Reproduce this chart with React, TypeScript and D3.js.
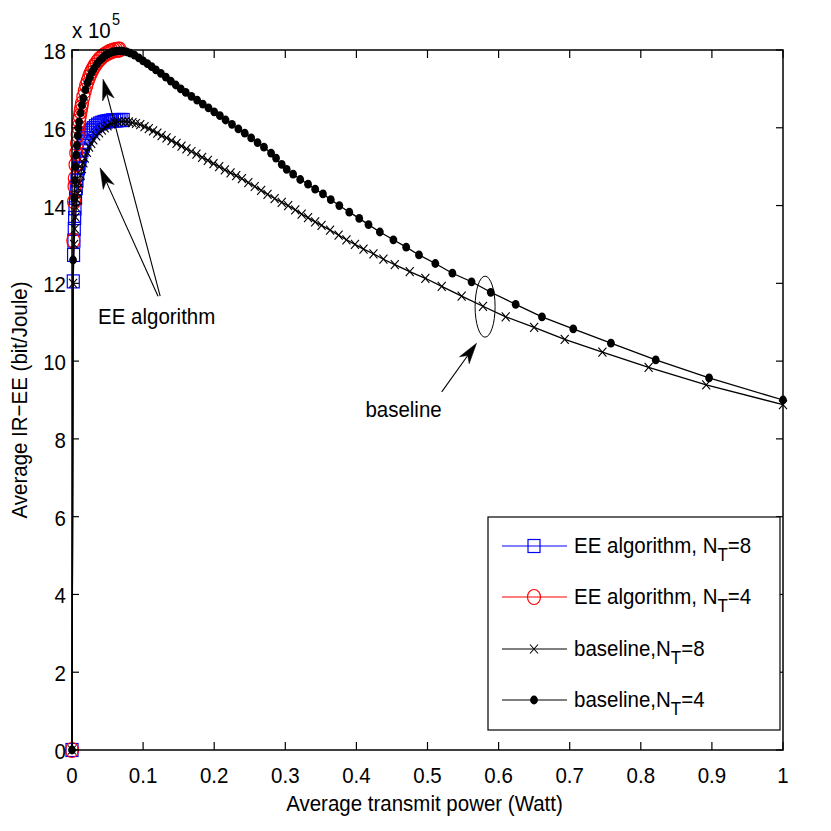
import React from 'react';
import * as d3 from 'd3';

// ---------- data (EE values in units of 1e5 bit/Joule) ----------
const xTickValues = [0, 0.1, 0.2, 0.3, 0.4, 0.5, 0.6, 0.7, 0.8, 0.9, 1];
const xTickLabels = ['0', '0.1', '0.2', '0.3', '0.4', '0.5', '0.6', '0.7', '0.8', '0.9', '1'];
const yTickValues = [0, 2, 4, 6, 8, 10, 12, 14, 16, 18];
const yTickLabels = ['0', '2', '4', '6', '8', '10', '12', '14', '16', '18'];

const eeNT8Power = [0, 0.0018, 0.0022, 0.0027, 0.0032, 0.0037, 0.0042, 0.005, 0.006, 0.007, 0.008, 0.009, 0.010, 0.011, 0.012, 0.014, 0.016, 0.018, 0.020, 0.022, 0.024, 0.026, 0.028, 0.030, 0.033, 0.036, 0.039, 0.042, 0.045, 0.048, 0.051, 0.054, 0.057, 0.060, 0.063, 0.066, 0.069, 0.072];
const eeNT8Value = [0, 12.05, 12.73, 13.1, 13.4, 13.68, 13.93, 14.2, 14.45, 14.65, 14.82, 14.96, 15.08, 15.18, 15.27, 15.42, 15.54, 15.64, 15.73, 15.8, 15.86, 15.91, 15.95, 15.99, 16.04, 16.08, 16.11, 16.13, 16.15, 16.16, 16.17, 16.18, 16.19, 16.19, 16.19, 16.2, 16.2, 16.2];

const eeNT4Power = [0, 0.0018, 0.003, 0.0035, 0.004, 0.005, 0.006, 0.007, 0.008, 0.009, 0.010, 0.011, 0.012, 0.013, 0.014, 0.016, 0.018, 0.020, 0.022, 0.024, 0.026, 0.028, 0.030, 0.032, 0.035, 0.038, 0.041, 0.044, 0.047, 0.050, 0.053, 0.056, 0.059, 0.062, 0.065, 0.067];
const eeNT4Value = [0, 13.1, 14.1, 14.5, 14.7, 15.05, 15.35, 15.6, 15.82, 16.02, 16.18, 16.3, 16.42, 16.52, 16.62, 16.8, 16.95, 17.08, 17.2, 17.3, 17.39, 17.47, 17.54, 17.6, 17.68, 17.75, 17.8, 17.85, 17.89, 17.92, 17.95, 17.97, 17.99, 18.0, 18.01, 18.01];

const baseNT8Power = [0, 0.0015, 0.003, 0.004, 0.005, 0.006, 0.007, 0.008, 0.009, 0.010, 0.012, 0.014, 0.016, 0.018, 0.021, 0.024, 0.027, 0.030, 0.034, 0.038, 0.042, 0.046, 0.050, 0.055, 0.060, 0.065, 0.070, 0.075, 0.080, 0.085, 0.090, 0.096, 0.102, 0.108, 0.114, 0.120, 0.126, 0.133, 0.140, 0.147, 0.154, 0.161, 0.168, 0.175, 0.183, 0.191, 0.199, 0.207, 0.215, 0.223, 0.231, 0.239, 0.248, 0.257, 0.266, 0.275, 0.285, 0.295, 0.304, 0.314, 0.323, 0.332, 0.342, 0.351, 0.363, 0.375, 0.386, 0.398, 0.410, 0.424, 0.438, 0.454, 0.475, 0.497, 0.520, 0.548, 0.578, 0.610, 0.650, 0.693, 0.746, 0.811, 0.892, 1.000];
const baseNT8Value = [0, 12.0, 13.0, 13.4, 13.7, 13.95, 14.15, 14.3, 14.45, 14.57, 14.78, 14.95, 15.1, 15.22, 15.37, 15.5, 15.6, 15.69, 15.79, 15.87, 15.94, 16.0, 16.05, 16.1, 16.13, 16.15, 16.16, 16.16, 16.15, 16.13, 16.11, 16.08, 16.03, 15.98, 15.92, 15.86, 15.8, 15.74, 15.67, 15.6, 15.53, 15.46, 15.39, 15.32, 15.24, 15.16, 15.08, 15.0, 14.92, 14.84, 14.77, 14.69, 14.59, 14.49, 14.39, 14.29, 14.18, 14.08, 14.0, 13.89, 13.78, 13.69, 13.58, 13.49, 13.37, 13.24, 13.12, 13.0, 12.88, 12.76, 12.62, 12.48, 12.3, 12.13, 11.92, 11.67, 11.41, 11.14, 10.87, 10.56, 10.23, 9.84, 9.39, 8.88];

const baseNT4Power = [0, 0.0015, 0.003, 0.004, 0.005, 0.006, 0.007, 0.008, 0.009, 0.010, 0.012, 0.014, 0.016, 0.019, 0.022, 0.025, 0.028, 0.031, 0.035, 0.039, 0.043, 0.047, 0.052, 0.057, 0.062, 0.067, 0.072, 0.077, 0.082, 0.088, 0.094, 0.100, 0.106, 0.112, 0.118, 0.125, 0.132, 0.139, 0.146, 0.153, 0.160, 0.168, 0.176, 0.184, 0.192, 0.200, 0.208, 0.216, 0.225, 0.234, 0.243, 0.252, 0.261, 0.270, 0.280, 0.287, 0.295, 0.302, 0.311, 0.321, 0.332, 0.342, 0.353, 0.364, 0.376, 0.390, 0.404, 0.417, 0.433, 0.452, 0.470, 0.488, 0.511, 0.535, 0.562, 0.589, 0.624, 0.661, 0.705, 0.758, 0.821, 0.896, 1.000];
const baseNT4Value = [0, 12.6, 14.2, 14.65, 15.0, 15.3, 15.55, 15.8, 16.0, 16.15, 16.38, 16.58, 16.76, 16.98, 17.16, 17.3, 17.43, 17.53, 17.64, 17.73, 17.8, 17.86, 17.91, 17.95, 17.97, 17.98, 17.97, 17.95, 17.92, 17.87, 17.8, 17.72, 17.65, 17.57, 17.49, 17.4, 17.3, 17.2, 17.1, 17.0, 16.91, 16.81, 16.71, 16.61, 16.51, 16.41, 16.31, 16.2, 16.09, 15.97, 15.86, 15.74, 15.62, 15.5, 15.35, 15.22, 15.06, 14.93, 14.81, 14.67, 14.55, 14.42, 14.3, 14.15, 14.0, 13.83, 13.67, 13.51, 13.32, 13.12, 12.93, 12.73, 12.51, 12.26, 12.04, 11.77, 11.46, 11.14, 10.83, 10.46, 10.03, 9.57, 9.0];

const legendLabels = [
  { main: 'EE algorithm, N', sub: 'T', tail: '=8' },
  { main: 'EE algorithm, N', sub: 'T', tail: '=4' },
  { main: 'baseline,N', sub: 'T', tail: '=8' },
  { main: 'baseline,N', sub: 'T', tail: '=4' },
];

// annotation anchors (data units)
const eeArrowTips = [[0.0436, 17.25], [0.0394, 14.97]];
const eeArrowTails = [[0.124, 11.67], [0.121, 11.67]];
const eeTextPos = [0.0366, 10.95];
const blArrowTip = [0.569, 10.46];
const blArrowTail = [0.52, 9.21];
const blTextPos = [0.52, 8.56];
const blEllipse = [0.581, 11.4];

const FONT = '"Liberation Sans", Arial, Helvetica, sans-serif';
const STRETCH = 1.12;

function arrowPath(tx: number, ty: number, fx: number, fy: number, len = 20, width = 12) {
  const dx = tx - fx, dy = ty - fy;
  const L = Math.hypot(dx, dy);
  const ux = dx / L, uy = dy / L;
  const nx = -uy, ny = ux;
  const bx = tx - ux * len, by = ty - uy * len;
  const c1x = bx + nx * width / 2, c1y = by + ny * width / 2;
  const c2x = bx - nx * width / 2, c2y = by - ny * width / 2;
  const mx = tx - ux * len * 0.72, my = ty - uy * len * 0.72;
  return {
    head: `M${tx},${ty}L${c1x},${c1y}L${mx},${my}L${c2x},${c2y}Z`,
    notch: [mx, my],
  };
}

function T(props: { x: number; y: number; size?: number; anchor?: string; rotate?: number; children: React.ReactNode }) {
  const { x, y, size = 20.5, anchor = 'start', rotate = 0, children } = props;
  return (
    <text
      transform={`translate(${x},${y})${rotate ? ` rotate(${rotate})` : ''} scale(1,${STRETCH})`}
      textAnchor={anchor}
      fontSize={size}
      fill="#000"
    >
      {children}
    </text>
  );
}

export default function App() {
  const W = 831, H = 831;
  const left = 72, right = 783, top = 50, bottom = 750;
  const x = d3.scaleLinear().domain([0, 1]).range([left, right]);
  const y = d3.scaleLinear().domain([0, 18]).range([bottom, top]);

  const mk = (px: number[], py: number[]) => px.map((v, i) => [x(v), y(py[i])] as [number, number]);
  const ee8 = mk(eeNT8Power, eeNT8Value);
  const ee4 = mk(eeNT4Power, eeNT4Value);
  const b8 = mk(baseNT8Power, baseNT8Value);
  const b4 = mk(baseNT4Power, baseNT4Value);
  const pathOf = (pts: [number, number][]) => d3.line()(pts) || '';

  const tickLen = 8;

  const arrows = eeArrowTips.map((t, i) => {
    const tx = x(t[0]), ty = y(t[1]);
    const fx = x(eeArrowTails[i][0]), fy = y(eeArrowTails[i][1]);
    const a = arrowPath(tx, ty, fx, fy, 21, 12);
    return { ...a, fx, fy };
  });
  const blA = (() => {
    const tx = x(blArrowTip[0]), ty = y(blArrowTip[1]);
    const fx = x(blArrowTail[0]), fy = y(blArrowTail[1]);
    return { ...arrowPath(tx, ty, fx, fy, 21, 12), fx, fy };
  })();

  const legX = 488, legY = 517, legW = 292, legH = 213;
  const legRows = [546, 597, 649, 700];
  const legLineX0 = 502, legLineX1 = 567, legMarkX = 534, legTextX = 574;

  const square = (cx: number, cy: number, k: string | number, color: string) => (
    <rect key={k} x={cx - 6} y={cy - 6.5} width={12} height={13} fill="none" stroke={color} strokeWidth={1.2} />
  );
  const circ = (cx: number, cy: number, k: string | number, color: string) => (
    <ellipse key={k} cx={cx} cy={cy} rx={6.5} ry={7.5} fill="none" stroke={color} strokeWidth={1.2} />
  );
  const cross = (cx: number, cy: number, k: string | number) => (
    <path key={k} d={`M${cx - 4},${cy - 4.5}L${cx + 4},${cy + 4.5}M${cx - 4},${cy + 4.5}L${cx + 4},${cy - 4.5}`} stroke="#000" strokeWidth={1.1} fill="none" />
  );
  const dot = (cx: number, cy: number, k: string | number) => (
    <ellipse key={k} cx={cx} cy={cy} rx={3.9} ry={4.4} fill="#000" />
  );

  return (
    <svg width={W} height={H} style={{ position: 'absolute', left: 0, top: 0, background: '#fff' }} fontFamily={FONT}>
      <rect x={0} y={0} width={W} height={H} fill="#fff" />
      {/* series: EE algorithm N_T=8 */}
      <path d={pathOf(ee8)} fill="none" stroke="#0000ff" strokeWidth={1.2} />
      {ee8.map((p, i) => square(p[0], p[1], 'sq' + i, '#0000ff'))}
      {/* EE algorithm N_T=4 */}
      <path d={pathOf(ee4)} fill="none" stroke="#ff0000" strokeWidth={1.2} />
      {ee4.map((p, i) => circ(p[0], p[1], 'ci' + i, '#ff0000'))}
      {/* baseline N_T=8 */}
      <path d={pathOf(b8)} fill="none" stroke="#000" strokeWidth={1.3} />
      {b8.map((p, i) => cross(p[0], p[1], 'cr' + i))}
      {/* baseline N_T=4 */}
      <path d={pathOf(b4)} fill="none" stroke="#000" strokeWidth={1.3} />
      {b4.map((p, i) => dot(p[0], p[1], 'dt' + i))}

      {/* axes box */}
      <rect x={left} y={top} width={right - left} height={bottom - top} fill="none" stroke="#000" strokeWidth={1.5} />
      {xTickValues.map((v, i) => (
        <g key={'xt' + i}>
          <line x1={x(v)} x2={x(v)} y1={bottom} y2={bottom - tickLen} stroke="#000" strokeWidth={1.2} />
          <line x1={x(v)} x2={x(v)} y1={top} y2={top + tickLen} stroke="#000" strokeWidth={1.2} />
          <T x={x(v)} y={783} anchor="middle">{xTickLabels[i]}</T>
        </g>
      ))}
      {yTickValues.map((v, i) => (
        <g key={'yt' + i}>
          <line x1={left} x2={left + 7} y1={y(v)} y2={y(v)} stroke="#000" strokeWidth={1.2} />
          <line x1={right} x2={right - 7} y1={y(v)} y2={y(v)} stroke="#000" strokeWidth={1.2} />
          <T x={66} y={y(v) + 9} anchor="end">{yTickLabels[i]}</T>
        </g>
      ))}
      {/* exponent */}
      <T x={72} y={38}>x 10</T>
      <T x={112} y={25} size={14.5}>5</T>

      {/* axis labels */}
      <T x={(left + right) / 2 - 3} y={811} anchor="middle">Average transmit power (Watt)</T>
      <T x={27} y={(top + bottom) / 2} anchor="middle" rotate={-90}>Average IR−EE (bit/Joule)</T>

      {/* annotations */}
      {arrows.map((a, i) => (
        <g key={'ar' + i}>
          <line x1={a.fx} y1={a.fy} x2={a.notch[0]} y2={a.notch[1]} stroke="#000" strokeWidth={1.1} />
          <path d={a.head} fill="#000" stroke="#000" strokeWidth={0.5} />
        </g>
      ))}
      <T x={x(eeTextPos[0])} y={y(eeTextPos[1])}>EE algorithm</T>
      <line x1={blA.fx} y1={blA.fy} x2={blA.notch[0]} y2={blA.notch[1]} stroke="#000" strokeWidth={1.1} />
      <path d={blA.head} fill="#000" stroke="#000" strokeWidth={0.5} />
      <T x={x(blTextPos[0])} y={y(blTextPos[1])} anchor="end">baseline</T>
      <ellipse cx={x(blEllipse[0])} cy={y(blEllipse[1])} rx={10} ry={30.5} fill="none" stroke="#000" strokeWidth={1} />

      {/* legend */}
      <rect x={legX} y={legY} width={legW} height={legH} fill="#fff" stroke="#000" strokeWidth={1.2} />
      {legendLabels.map((lab, i) => {
        const ly = legRows[i];
        const color = i === 0 ? '#0000ff' : i === 1 ? '#ff0000' : '#000';
        return (
          <g key={'lg' + i}>
            <line x1={legLineX0} x2={legLineX1} y1={ly} y2={ly} stroke={color} strokeWidth={1.2} />
            {i === 0 && square(legMarkX, ly, 'lsq', color)}
            {i === 1 && circ(legMarkX, ly, 'lci', color)}
            {i === 2 && cross(legMarkX, ly, 'lcr')}
            {i === 3 && dot(legMarkX, ly, 'ldt')}
            <T x={legTextX} y={ly + 7}>
              {lab.main}
              <tspan dy={7} fontSize={17}>{lab.sub}</tspan>
              <tspan dy={-7} fontSize={20.5}>{lab.tail}</tspan>
            </T>
          </g>
        );
      })}
    </svg>
  );
}
